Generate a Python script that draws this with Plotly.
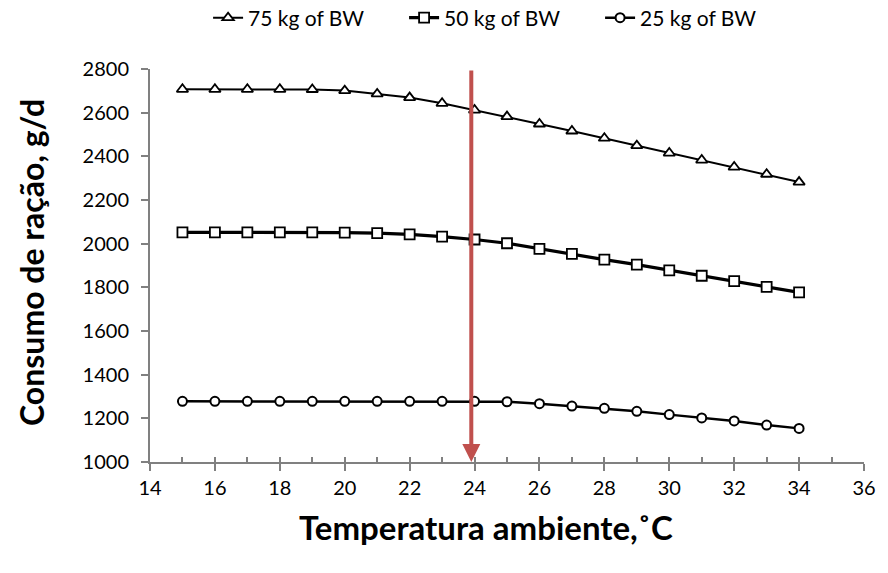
import plotly.graph_objects as go

temps = list(range(15, 35))
bw75 = [2707, 2707, 2707, 2707, 2706, 2701, 2686, 2669, 2643, 2612,
        2582, 2548, 2516, 2483, 2449, 2415, 2383, 2351, 2318, 2282]
bw50 = [2052, 2052, 2052, 2052, 2052, 2051, 2048, 2043, 2032, 2019,
        2002, 1976, 1953, 1927, 1904, 1878, 1853, 1828, 1802, 1777]
bw25 = [1278, 1278, 1278, 1278, 1278, 1278, 1278, 1278, 1278, 1278,
        1276, 1267, 1256, 1246, 1232, 1217, 1202, 1188, 1169, 1154]
series_names = ["75 kg of BW", "50 kg of BW", "25 kg of BW"]
arrow_x = 23.9
y_top, y_bottom = 2800, 1000
x_title = "Temperatura ambiente,˚C"
y_title = "Consumo de ração, g/d"

fig = go.Figure()
fig.add_trace(go.Scatter(x=temps, y=bw75, name=series_names[0], mode="lines+markers",
                         line=dict(color="black", width=2),
                         marker=dict(symbol="triangle-up", size=10, color="white",
                                     line=dict(color="black", width=1.8))))
fig.add_trace(go.Scatter(x=temps, y=bw50, name=series_names[1], mode="lines+markers",
                         line=dict(color="black", width=3.2),
                         marker=dict(symbol="square", size=10, color="white",
                                     line=dict(color="black", width=1.8))))
fig.add_trace(go.Scatter(x=temps, y=bw25, name=series_names[2], mode="lines+markers",
                         line=dict(color="black", width=2.5),
                         marker=dict(symbol="circle", size=9, color="white",
                                     line=dict(color="black", width=2))))
# overlay axis for inside ticks
fig.add_trace(go.Scatter(x=[14], y=[1000], xaxis="x2", mode="markers",
                         marker=dict(opacity=0), showlegend=False, hoverinfo="skip"))

fig.add_annotation(x=arrow_x, y=y_bottom, ax=arrow_x, ay=y_top, xref="x", yref="y",
                   axref="x", ayref="y", showarrow=True, arrowhead=2, arrowsize=0.9,
                   arrowwidth=4, arrowcolor="#C0504D", text="")

fig.add_annotation(text=x_title, xref="paper", yref="paper", x=(492 - 150) / 726,
                   y=-(527 - 462) / 393, showarrow=False, xanchor="center", yanchor="middle",
                   font=dict(family="Lato", size=33, color="black", weight="bold"))
fig.add_annotation(text=y_title, xref="paper", yref="paper", x=-(150 - 29) / 726,
                   y=(462 - 263) / 393, showarrow=False, xanchor="center", yanchor="middle",
                   textangle=-90,
                   font=dict(family="Lato", size=32, color="black", weight="bold"))

axis_color = "#808080"
fig.update_layout(
    width=888, height=573,
    margin=dict(l=150, r=12, t=69, b=111),
    paper_bgcolor="white", plot_bgcolor="white",
    showlegend=True,
    legend=dict(orientation="h", x=(508 - 150) / 726, xanchor="center",
                yref="container", y=1 - 18 / 573, yanchor="middle",
                font=dict(family="Lato", size=21, color="black"),
                itemwidth=30, entrywidth=151, entrywidthmode="pixels",
                bgcolor="rgba(0,0,0,0)"),
    xaxis=dict(range=[14, 36], dtick=2, tick0=14, showgrid=False, zeroline=False,
               showline=True, linecolor=axis_color, linewidth=2,
               ticks="outside", ticklen=7, tickwidth=1.5, tickcolor=axis_color,
               tickfont=dict(family="Lato", size=20, color="black")),
    xaxis2=dict(range=[14, 36], dtick=1, tick0=14, overlaying="x", side="bottom",
                showgrid=False, zeroline=False, showline=False, showticklabels=False,
                ticks="inside", ticklen=5, tickwidth=1.5, tickcolor=axis_color),
    yaxis=dict(range=[1000, 2800], dtick=200, showgrid=False, zeroline=False,
               showline=True, linecolor=axis_color, linewidth=2,
               ticks="outside", ticklen=7, tickwidth=1.5, tickcolor=axis_color,
               ticklabelstandoff=8,
               tickfont=dict(family="Lato", size=20, color="black")),
)

fig.write_html("out.html")
